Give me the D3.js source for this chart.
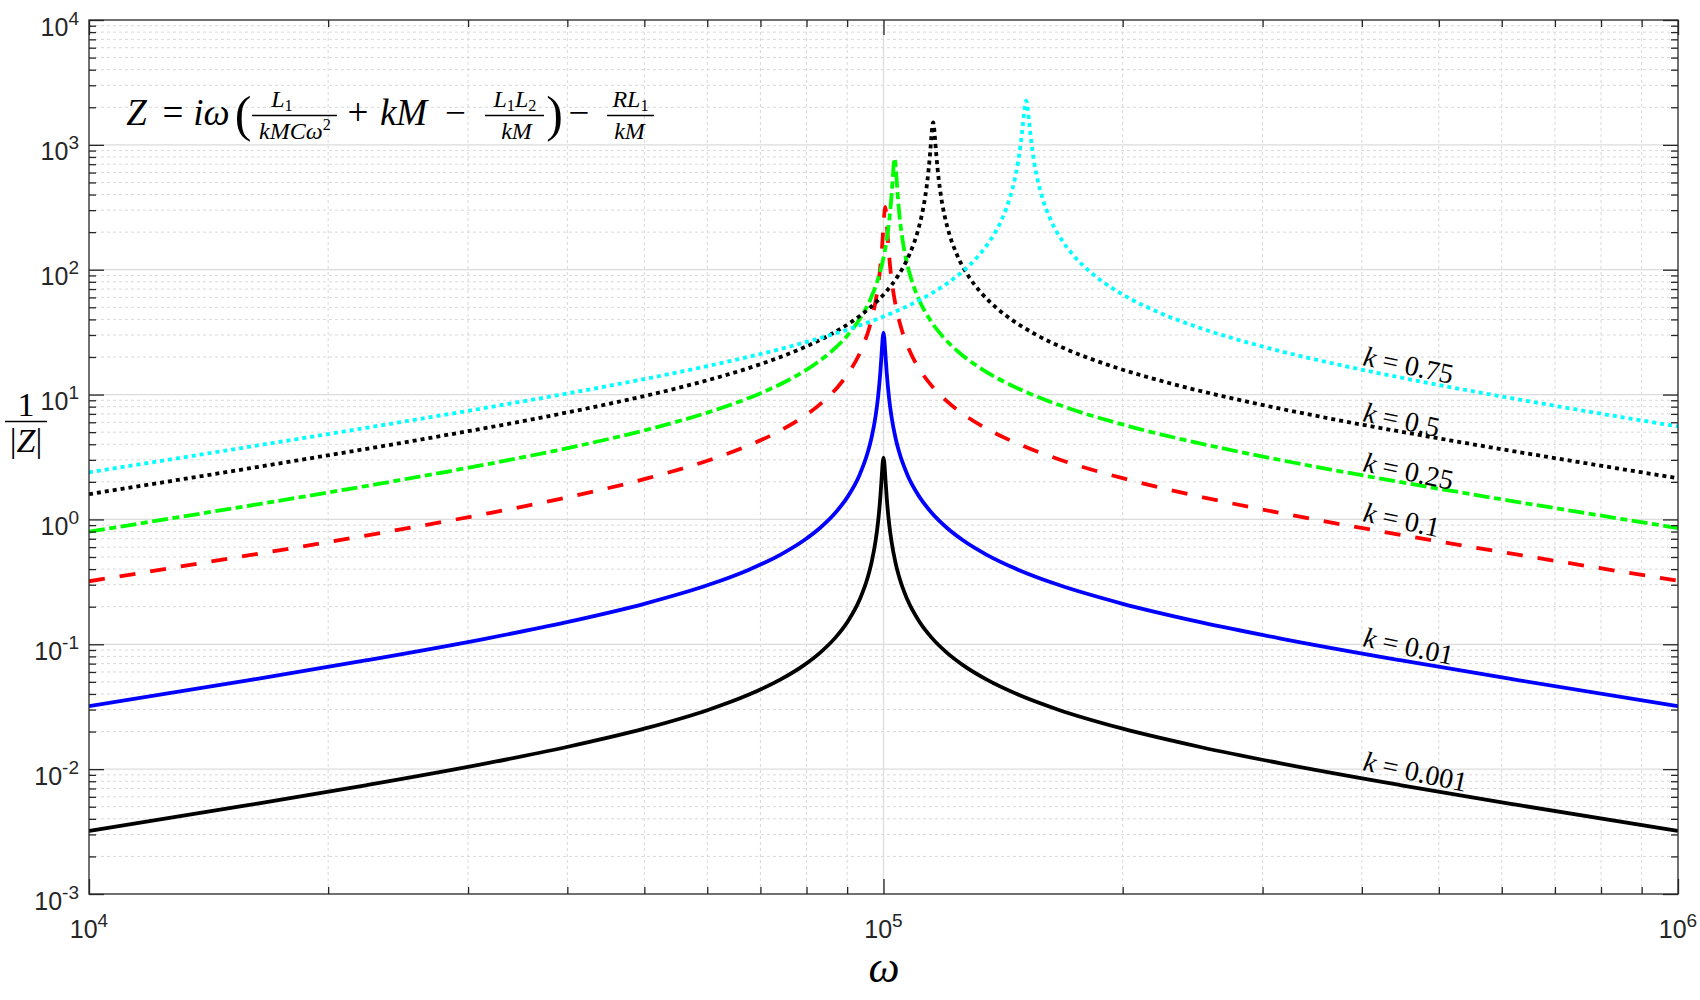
<!DOCTYPE html>
<html>
<head>
<meta charset="utf-8">
<script src="https://cdn.jsdelivr.net/npm/d3@7"></script>
<style>
  body { margin: 0; background: #ffffff; }
  svg { display: block; }
</style>
</head>
<body>
<div id="chart"></div>
<script>
// coupling values, one curve each
var kValues = [0.001, 0.01, 0.1, 0.25, 0.5, 0.75];

// omega samples (k = 0.001 and k = 0.01 share the same grid)
var omegaSmall = [10000, 15849, 22387, 31623, 39811, 50119, 60256, 67608, 74131, 79433, 83176, 87096, 90157, 93325, 95499, 96605, 97724, 98401, 99083, 99541, 99770,
  100000, 100230, 100462, 100925, 101625, 102329, 103514, 104713, 107152, 110917, 114815, 120226, 125893, 134896, 147911, 165959, 199526, 251189, 316228, 446684, 630957, 1000000];
var invZ_k0001 = [0.0031965, 0.0051447, 0.0074583, 0.011119, 0.014971, 0.02118, 0.029938, 0.039405, 0.052071, 0.068098, 0.085381, 0.11409, 0.15225, 0.22827, 0.3414, 0.4532, 0.6711, 0.9365, 1.5054, 2.312, 2.845,
  3.12, 2.845, 2.312, 1.5054, 0.9365, 0.6711, 0.4532, 0.3414, 0.22827, 0.15225, 0.11409, 0.085381, 0.068098, 0.052071, 0.039405, 0.029938, 0.02118, 0.014971, 0.011119, 0.0074583, 0.0051447, 0.0031965];
var invZ_k001 = [0.031965, 0.051447, 0.074583, 0.11119, 0.14971, 0.2118, 0.29938, 0.39405, 0.52071, 0.68098, 0.85381, 1.1409, 1.5225, 2.2827, 3.414, 4.532, 6.711, 9.365, 15.054, 23.12, 28.45,
  31.3, 28.45, 23.12, 15.054, 9.365, 6.711, 4.532, 3.414, 2.2827, 1.5225, 1.1409, 0.85381, 0.68098, 0.52071, 0.39405, 0.29938, 0.2118, 0.14971, 0.11119, 0.074583, 0.051447, 0.031965];

var omega_k01 = [10000, 15929, 22500, 31782, 40012, 50372, 60560, 67949, 74505, 79833, 83595, 87535, 90612, 93796, 95980, 97092, 98217, 98898, 99582, 100042, 100272,
  100504, 100736, 100968, 101434, 102138, 102846, 104036, 105241, 107692, 111476, 115394, 120832, 126527, 135576, 148657, 166795, 200532, 252455, 317822, 448935, 634137, 1000000];
var invZ_k01 = [0.31964, 0.51709, 0.74963, 1.11757, 1.5047, 2.1288, 3.0089, 3.9606, 5.2336, 6.8444, 8.5816, 11.467, 15.302, 22.942, 34.31, 45.54, 67.5, 94.26, 151.85, 234.3, 289.6,
  319, 289.6, 234.3, 151.85, 94.26, 67.5, 45.54, 34.31, 22.942, 15.302, 11.467, 8.5816, 6.8444, 5.2336, 3.9606, 3.0089, 2.1288, 1.5047, 1.11757, 0.74963, 0.51709, 0.32293];

var omega_k025 = [10000, 16369, 23122, 32660, 41117, 51763, 62233, 69826, 76563, 82038, 85905, 89953, 93114, 96387, 98632, 99774, 100929, 101629, 102333, 102805, 103042,
  103280, 103518, 103757, 104236, 104958, 105686, 106909, 108147, 110666, 114556, 118581, 124170, 130022, 139321, 152762, 171402, 206071, 259428, 326600, 461335, 651653, 1000000];
var invZ_k025 = [0.79863, 1.32836, 1.92574, 2.87094, 3.8655, 5.4688, 7.73, 10.1742, 13.4446, 17.5825, 22.045, 29.456, 39.308, 58.927, 88.116, 116.93, 173.01, 241.08, 385.7, 586.3, 715.0,
  780, 715.0, 586.3, 385.7, 241.08, 173.01, 116.93, 88.116, 58.927, 39.308, 29.456, 22.045, 17.5825, 13.4446, 10.1742, 7.73, 5.4688, 3.8655, 2.87094, 1.92574, 1.32836, 0.85298];

var omega_k05 = [10000, 18301, 25850, 36515, 45970, 57873, 69578, 78068, 85601, 91722, 96043, 100570, 104105, 107763, 110273, 111549, 112842, 113623, 114412, 114940, 115204,
  115470, 115736, 116003, 116539, 117347, 118161, 119529, 120913, 123729, 128077, 132577, 138825, 145368, 155764, 170793, 191632, 230392, 290048, 365148, 515786, 728566, 1000000];
var invZ_k05 = [1.5942, 2.9703, 4.3061, 6.4197, 8.6437, 12.2287, 17.284, 22.75, 30.062, 39.313, 49.289, 65.855, 87.868, 131.67, 196.72, 260.73, 383.8, 530.8, 829.8, 1204.0, 1415.4,
  1515, 1415.4, 1204.0, 829.8, 530.8, 383.8, 260.73, 196.72, 131.67, 87.868, 65.855, 49.289, 39.313, 30.062, 22.75, 17.284, 12.2287, 8.6437, 6.4197, 4.3061, 2.9703, 2.1382];

var omega_k075 = [10000, 15119, 23962, 33846, 47809, 60188, 75773, 91099, 102214, 112078, 120092, 125750, 131677, 136306, 141095, 144381, 146052, 147745, 148771, 149800, 150491, 150838,
  151186, 151534, 151883, 152583, 153641, 154707, 156498, 158310, 161998, 167692, 173583, 181764, 190331, 203943, 223620, 250905, 301654, 379762, 478091, 675321, 953924, 1000000];
var invZ_k075 = [2.3839, 3.6245, 5.8336, 8.457, 12.608, 16.976, 24.016, 33.943, 44.676, 59.031, 77.189, 96.76, 129.24, 172.34, 257.82, 383.8, 506.1, 736.4, 998.2, 1474.4, 1952.3, 2167.0,
  2256, 2167.0, 1952.3, 1474.4, 998.2, 736.4, 506.1, 383.8, 257.82, 172.34, 129.24, 96.76, 77.189, 59.031, 44.676, 33.943, 24.016, 16.976, 12.608, 8.457, 5.8336, 5.5519];

// axis tick exponents
var xExponents = [4, 5, 6];
var yExponents = [-3, -2, -1, 0, 1, 2, 3, 4];

var omegaSets = [omegaSmall, omegaSmall, omega_k01, omega_k025, omega_k05, omega_k075];
var invZSets = [invZ_k0001, invZ_k001, invZ_k01, invZ_k025, invZ_k05, invZ_k075];

// styling
var lineColors = ["#000000", "#0000ff", "#ff0000", "#00ff00", "#000000", "#00ffff"];
var lineDash = [null, null, "16,15", "16,4.5,7,4.5", "4,4", "4,4"];
var labelBaseline = [770, 646, 521, 471, 421, 365];  // px, where the k labels sit

var svgWidth = 1700;
var svgHeight = 1000;
var margin = {top: 20, right: 22, bottom: 106, left: 89};
var plotW = svgWidth - margin.left - margin.right;
var plotH = svgHeight - margin.top - margin.bottom;

var axisColor = "#262626";
var sans = "'Liberation Sans', Arial, Helvetica, sans-serif";
var serif = "'Liberation Serif', 'DejaVu Serif', 'Times New Roman', serif";

var svg = d3.select("#chart").append("svg")
  .attr("width", svgWidth)
  .attr("height", svgHeight);

var plot = svg.append("g")
  .attr("transform", `translate(${margin.left},${margin.top})`);

var x = d3.scaleLog().domain([1e4, 1e6]).range([0, plotW]);
var y = d3.scaleLog().domain([1e-3, 1e4]).range([plotH, 0]);

var majorX = xExponents.map(e => Math.pow(10, e));
var majorY = yExponents.map(e => Math.pow(10, e));
var minorX = [], minorY = [];
xExponents.slice(0, -1).forEach(e => { for (var m = 2; m <= 9; m++) minorX.push(m * Math.pow(10, e)); });
yExponents.slice(0, -1).forEach(e => { for (var m = 2; m <= 9; m++) minorY.push(m * Math.pow(10, e)); });

// grid
var grid = plot.append("g");
grid.selectAll(".hmin").data(minorY).enter().append("line")
  .attr("x1", 0).attr("x2", plotW)
  .attr("y1", d => y(d)).attr("y2", d => y(d))
  .attr("stroke", "#d9d9d9").attr("stroke-width", 1).attr("stroke-dasharray", "3,3");
grid.selectAll(".vmin").data(minorX).enter().append("line")
  .attr("y1", 0).attr("y2", plotH)
  .attr("x1", d => x(d)).attr("x2", d => x(d))
  .attr("stroke", "#d9d9d9").attr("stroke-width", 1).attr("stroke-dasharray", "3,3");
grid.selectAll(".hmaj").data(majorY.slice(1, -1)).enter().append("line")
  .attr("x1", 0).attr("x2", plotW)
  .attr("y1", d => y(d)).attr("y2", d => y(d))
  .attr("stroke", "#dcdcdc").attr("stroke-width", 1.3);
grid.selectAll(".vmaj").data(majorX.slice(1, -1)).enter().append("line")
  .attr("y1", 0).attr("y2", plotH)
  .attr("x1", d => x(d)).attr("x2", d => x(d))
  .attr("stroke", "#dcdcdc").attr("stroke-width", 1.3);

// curves
svg.append("defs").append("clipPath").attr("id", "plotClip")
  .append("rect").attr("width", plotW).attr("height", plotH);

var line = d3.line()
  .x(d => x(d[0]))
  .y(d => y(d[1]))
  .curve(d3.curveMonotoneX);

var curves = plot.append("g").attr("clip-path", "url(#plotClip)");
kValues.forEach(function(k, i) {
  var pts = omegaSets[i].map((w, j) => [w, invZSets[i][j]]);
  curves.append("path")
    .datum(pts)
    .attr("d", line)
    .attr("fill", "none")
    .attr("stroke", lineColors[i])
    .attr("stroke-width", 3.8)
    .attr("stroke-linejoin", "round")
    .attr("stroke-dasharray", lineDash[i]);
});

// axes: ticks point inward, box on all four sides
function tickAxis(gen, values, size, transform) {
  var g = plot.append("g")
    .attr("transform", transform)
    .attr("color", axisColor)
    .call(gen.tickValues(values).tickSize(-size).tickSizeOuter(0).tickFormat(""));
  g.select(".domain").remove();
  g.selectAll(".tick line").attr("stroke-width", 1.3);
}
tickAxis(d3.axisBottom(x), majorX, 15, `translate(0,${plotH})`);
tickAxis(d3.axisBottom(x), minorX, 7, `translate(0,${plotH})`);
tickAxis(d3.axisTop(x), majorX, 15, "translate(0,0)");
tickAxis(d3.axisTop(x), minorX, 7, "translate(0,0)");
tickAxis(d3.axisLeft(y), majorY, 15, "translate(0,0)");
tickAxis(d3.axisLeft(y), minorY, 7, "translate(0,0)");
tickAxis(d3.axisRight(y), majorY, 15, `translate(${plotW},0)`);
tickAxis(d3.axisRight(y), minorY, 7, `translate(${plotW},0)`);

plot.append("rect")
  .attr("width", plotW).attr("height", plotH)
  .attr("fill", "none").attr("stroke", axisColor).attr("stroke-width", 1.3);

// tick labels 10^n
function powerLabel(parent, px, py, exp, anchor) {
  var t = parent.append("text")
    .attr("x", px).attr("y", py)
    .attr("text-anchor", anchor)
    .attr("font-family", sans)
    .attr("fill", axisColor);
  t.append("tspan").attr("font-size", 25).text("10");
  t.append("tspan").attr("font-size", 19).attr("dy", -11).text(String(exp));
}
xExponents.forEach(e => powerLabel(plot, x(Math.pow(10, e)), plotH + 44, e, "middle"));
yExponents.forEach(e => powerLabel(plot, -10, y(Math.pow(10, e)) + 15.5, e, "end"));

// math text helper: parts = [text, italic, shift("sub"/"sup"/none)]
function mathText(parent, px, py, size, parts, anchor) {
  var t = parent.append("text")
    .attr("x", px).attr("y", py)
    .attr("text-anchor", anchor || "middle")
    .attr("font-family", serif)
    .attr("font-size", size)
    .attr("fill", "#000");
  var shift = 0;
  parts.forEach(function(p) {
    var target = p[2] === "sub" ? size * 0.15 : (p[2] === "sup" ? -size * 0.36 : 0);
    var ts = t.append("tspan").text(p[0])
      .attr("font-style", p[1] ? "italic" : "normal")
      .attr("font-size", p[2] ? size * 0.68 : size);
    if (target !== shift) { ts.attr("dy", target - shift); shift = target; }
  });
  return t;
}
function fracBar(x1, x2, yy) {
  svg.append("line").attr("x1", x1).attr("x2", x2).attr("y1", yy).attr("y2", yy)
    .attr("stroke", "#000").attr("stroke-width", 1.4);
}

// formula
var fsz = 37, nsz = 24;
mathText(svg, 136.5, 125, fsz, [["Z", true]]);
mathText(svg, 173, 125, fsz, [["=", false]]);
mathText(svg, 211.5, 125, fsz, [["i", true], ["\u03c9", true]]);
mathText(svg, 243, 131, 50, [["(", false]]);
mathText(svg, 282, 107, nsz, [["L", true], ["1", false, "sub"]]);
fracBar(252, 337, 115.5);
mathText(svg, 295, 139, nsz, [["kMC", true], ["\u03c9", true], ["2", false, "sup"]]);
mathText(svg, 358, 125, fsz, [["+", false]]);
mathText(svg, 403.5, 125, fsz, [["kM", true]]);
mathText(svg, 455.5, 125, fsz, [["\u2212", false]]);
mathText(svg, 515, 107, nsz, [["L", true], ["1", false, "sub"], ["L", true], ["2", false, "sub"]]);
fracBar(485, 544, 115.5);
mathText(svg, 516.5, 139, nsz, [["kM", true]]);
mathText(svg, 554.5, 131, 50, [[")", false]]);
mathText(svg, 579, 125, fsz, [["\u2212", false]]);
mathText(svg, 630.5, 107, nsz, [["RL", true], ["1", false, "sub"]]);
fracBar(607, 654, 115.5);
mathText(svg, 629.5, 139, nsz, [["kM", true]]);

// curve labels, tilted along the curves
kValues.forEach(function(k, i) {
  var g = svg.append("g")
    .attr("transform", `translate(1362,${labelBaseline[i]}) rotate(12)`);
  mathText(g, 0, 0, 28, [["k", true], [" = " + k, false]], "start");
});

// axis titles
mathText(svg, 26, 416, 34, [["1", false]]);
fracBar(5, 47, 421.5);
mathText(svg, 26, 452, 34, [["|", false], ["Z", true], ["|", false]]);
mathText(svg, 884, 982, 44, [["\u03c9", true]]);
</script>
</body>
</html>
